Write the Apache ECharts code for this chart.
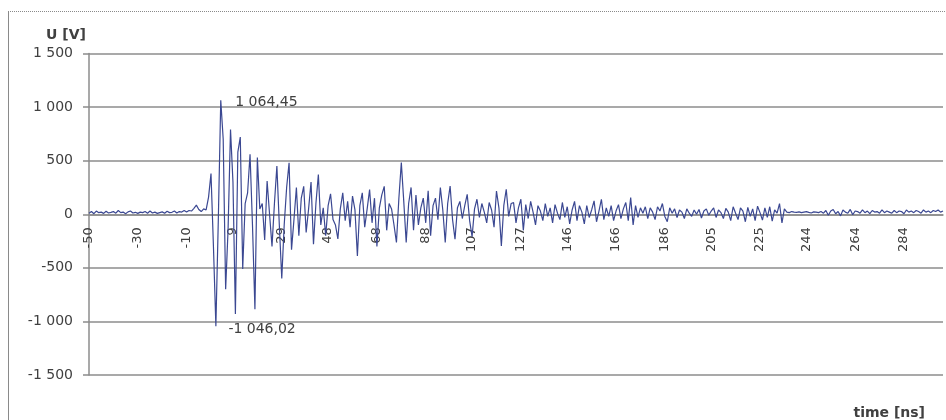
<!DOCTYPE html>
<html>
<head>
<meta charset="utf-8">
<title>U [V] – time [ns]</title>
<script src="https://cdn.jsdelivr.net/npm/echarts@6/dist/echarts.min.js"></script>
<style>
  html, body { margin: 0; padding: 0; background: #ffffff; }
  #chart { width: 946px; height: 420px; }
</style>
</head>
<body>
<div id="chart"></div>
<script>
// Sampling of the record: one sample per nanosecond, from -50 ns to 300 ns
const startTime = -50;
const sampleStep = 1;

// Voltage samples [V]
const preTrigger = [
  10, 25, 5, 30, 15, 20, 8, 28, 12, 18,
  25, 10, 35, 15, 20, 5, 22, 30, 12, 18,
  8, 20, 15, 25, 10, 30, 12, 20, 8, 15,
  22, 10, 28, 15, 18, 30, 12, 25, 20, 35,
  20, 35, 30, 55, 85, 45, 25, 50, 40, 160
];
const burst = [
  380, -300, -1046.02, -50, 1064.45, 700, -700, -140, 790, 300,
  -930, 580, 720, -510, 100, 200, 560, -100, -886, 530,
  50, 100, -240, 310, 0, -300, 100, 450, -100, -600,
  -100, 250, 480, -330, -50, 250, -200, 150, 260, -170,
  50, 300, -280, 100, 370, -100, 60, -200, 80, 190,
  -50, -100, -230, 50, 200, -60, 120, -120, 170, 40,
  -390, 80, 200, -120, 50, 230, -80, 150, -300, 60,
  180, 260, -150, 100, 50, -100, -264, 150, 482, 120
];
const decay = [
  -264, 100, 250, -150, 180, -100, 60, 150, -80, 220,
  -200, 80, 150, -50, 250, 40, -264, 100, 264, -50,
  -233, 60, 120, -40, 80, 186, -60, -210, 50, 140,
  -30, 100, 20, -80, 110, 40, -120, 217, 60, -295,
  80, 233, -20, 100, 109, -80, 60, 140, -150, 90,
  -40, 120, 20, -100, 80, 30, -60, 100, -20, 60,
  -80, 90, 10, -50, 110, -30, 70, -90, 40, 120,
  -60, 80, 20, -90, 80, -30, 40, 125, -70, 30,
  140, -50, 60, -20, 80, -60, 30, 90, -40, 50,
  110, -60, 155, -100, 80, -30, 60, 10, 70, -40,
  60, 20, -50, 70, 30, 100, -20, -70, 60, 10,
  50, -30, 40, 20, -40, 50, 10, -20, 40, 0
];
const tail = [
  45, -35, 30, 50, -10, 30, 60, -30, 40, 15,
  -40, 55, 20, -60, 70, 10, -50, 60, 30, -70,
  65, -20, 50, -60, 75, 15, -55, 60, -30, 70,
  -65, 40, 10, 100, -80, 50, 20, 15, 25, 20,
  18, 22, 15, 20, 25, 18, 12, 22, 20, 15,
  25, 10, 35, -10, 30, 45, 5, 25, -15, 40,
  20, 10, 45, -5, 30, 25, 10, 40, 15, 30,
  5, 35, 20, 25, 10, 40, 15, 30, 20, 10,
  35, 15, 30, 25, 5, 40, 20, 30, 15, 35,
  25, 10, 40, 20, 30, 15, 35, 25, 40, 20,
  30
];

// Time values that carry a label on the horizontal axis [ns]
const timeTickLabels = [-50, -30, -10, 9, 29, 48, 68, 88, 107, 127, 146, 166, 186, 205, 225, 244, 264, 284];
// Voltage axis range and step [V]
const voltMin = -1500;
const voltMax = 1500;
const voltStep = 500;

const voltage = preTrigger.concat(burst, decay, tail);
const times = voltage.map((_, i) => String(startTime + i * sampleStep));

// "1064.45" -> "1 064,45"
function fmtNum(v, decimals) {
  const neg = v < 0;
  const fixed = Math.abs(v).toFixed(decimals);
  const parts = fixed.split('.');
  const intPart = parts[0].replace(/\B(?=(\d{3})+(?!\d))/g, ' ');
  return (neg ? '-' : '') + intPart + (parts[1] ? ',' + parts[1] : '');
}

// Plot area
const gridTop = 53.5;
const gridBottom = 45;
const chartHeight = 420;
const plotHeight = chartHeight - gridTop - gridBottom;
// the time axis runs along U = 0
const zeroOffset = -plotHeight * (0 - voltMin) / (voltMax - voltMin);

const textColor = '#404040';
const gridColor = '#8c8c8c';
const font = 'DejaVu Sans';

const tickSet = new Set(timeTickLabels.map(String));
const chart = echarts.init(document.getElementById('chart'), null, { renderer: 'canvas' });

const peakLabel = {
  show: true,
  position: 'right',
  distance: 14,
  color: textColor,
  fontFamily: font,
  fontSize: 14,
  formatter: p => fmtNum(p.value, 2)
};

chart.setOption({
  backgroundColor: '#ffffff',
  animation: false,
  textStyle: { fontFamily: font },
  title: [
    {
      text: 'U [V]',
      left: 41, top: 23,
      textStyle: { fontSize: 14, fontWeight: 'bold', color: textColor, fontFamily: font }
    },
    {
      text: 'time [ns]',
      right: 16, top: 401,
      textStyle: { fontSize: 14, fontWeight: 'bold', color: textColor, fontFamily: font }
    }
  ],
  graphic: [
    {
      type: 'line', silent: true,
      shape: { x1: 8, y1: 11.5, x2: 946, y2: 11.5 },
      style: { stroke: '#8a8a8a', lineWidth: 1, lineDash: [1, 1] }
    },
    {
      type: 'line', silent: true,
      shape: { x1: 8.5, y1: 11, x2: 8.5, y2: 420 },
      style: { stroke: '#8a8a8a', lineWidth: 1 }
    }
  ],
  grid: { left: 89, right: 3, top: gridTop, bottom: gridBottom, containLabel: false },
  xAxis: {
    type: 'category',
    data: times,
    boundaryGap: false,
    position: 'bottom',
    offset: zeroOffset,
    axisLine: { onZero: false, lineStyle: { color: gridColor, width: 1.5 } },
    axisTick: { show: false },
    axisLabel: {
      interval: (idx, val) => tickSet.has(val),
      rotate: 90,
      margin: 13,
      color: textColor,
      fontSize: 13,
      fontFamily: font
    },
    splitLine: { show: false }
  },
  yAxis: {
    type: 'value',
    min: voltMin,
    max: voltMax,
    interval: voltStep,
    axisLine: { show: true, lineStyle: { color: gridColor, width: 1.5 } },
    axisTick: { show: true, length: 6, lineStyle: { color: gridColor, width: 1.5 } },
    axisLabel: {
      margin: 16,
      color: textColor,
      fontSize: 14,
      fontFamily: font,
      formatter: v => fmtNum(v, 0)
    },
    splitLine: { show: true, lineStyle: { color: gridColor, width: 1.5 } }
  },
  series: [
    {
      type: 'line',
      data: voltage,
      showSymbol: false,
      symbol: 'none',
      sampling: null,
      lineStyle: { color: '#3b4892', width: 1.2 },
      z: 3,
      markPoint: {
        symbol: 'circle',
        symbolSize: 1,
        itemStyle: { color: 'rgba(0,0,0,0)' },
        silent: true,
        data: [
          { type: 'max', label: Object.assign({}, peakLabel, { offset: [0, 2] }) },
          { type: 'min', label: Object.assign({}, peakLabel, { offset: [-2, 3] }) }
        ]
      }
    }
  ]
});
</script>
</body>
</html>
